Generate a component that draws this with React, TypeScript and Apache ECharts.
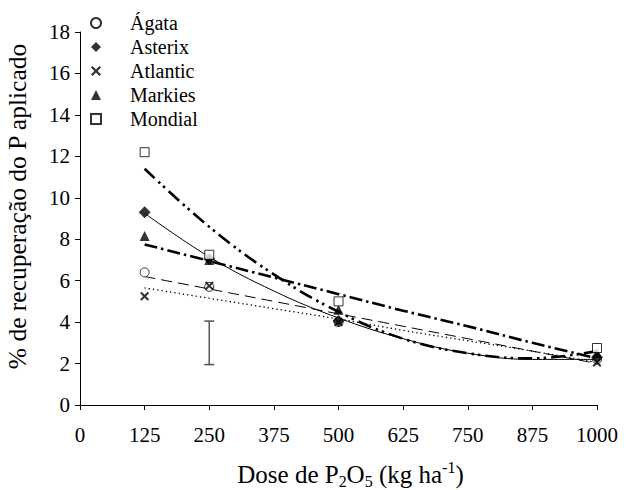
import { useEffect, useRef } from "react";
import * as echarts from "echarts";

// Observed data (dose in kg/ha of P2O5, % recovery of applied P)
const doses = [125, 250, 500, 1000];
const agata = [6.4, 5.7, 4.0, 2.2];
const asterix = [9.3, 7.05, 4.05, 2.3];
const atlantic = [5.25, 5.75, 4.0, 2.05];
const markies = [8.15, 7.0, 4.6, 2.5];
const mondial = [12.2, 7.25, 5.0, 2.75];

// Trend lines
const trendDoses = [125, 250, 375, 500, 625, 750, 875, 1000];
const agataTrend = [6.2, 5.6, 5.0, 4.4, 3.8, 3.2, 2.6, 2.0];
const asterixTrend = [9.25, 7.15, 5.5, 4.2, 3.2, 2.5, 2.2, 2.2];
const atlanticTrend = [5.65, 5.15, 4.65, 4.15, 3.6, 3.1, 2.6, 2.05];
const markiesTrend = [7.75, 6.95, 6.15, 5.35, 4.55, 3.8, 3.0, 2.25];
const mondialTrend = [11.4, 8.6, 6.3, 4.5, 3.2, 2.5, 2.25, 2.6];

// Error bar at dose 250
const errorBarX = 250;
const errorBarLow = 1.95;
const errorBarHigh = 4.05;

const cultivars = ["Ágata", "Asterix", "Atlantic", "Markies", "Mondial"];

const SERIF = "Liberation Serif";
const X_PATH =
  "path://M0,1.6 L1.6,0 L5,3.4 L8.4,0 L10,1.6 L6.6,5 L10,8.4 L8.4,10 L5,6.6 L1.6,10 L0,8.4 L3.4,5 Z";

function pairs(xs: number[], ys: number[]) {
  return xs.map((x, i) => [x, ys[i]]);
}

export default function App() {
  const ref = useRef<HTMLDivElement>(null);

  useEffect(() => {
    if (!ref.current) return;
    const chart = echarts.init(ref.current, undefined, { renderer: "svg" });

    const open = { color: "#fff", borderColor: "#000", borderWidth: 1 };
    const filled = { color: "#000", borderWidth: 0 };

    const markerSeries = [
      { name: cultivars[0], data: pairs(doses, agata), symbol: "circle", symbolSize: 9, itemStyle: open },
      { name: cultivars[1], data: pairs(doses, asterix), symbol: "diamond", symbolSize: 12, itemStyle: filled },
      { name: cultivars[2], data: pairs(doses, atlantic), symbol: X_PATH, symbolSize: 9, itemStyle: filled },
      { name: cultivars[3], data: pairs(doses, markies), symbol: "triangle", symbolSize: 10, itemStyle: filled },
      { name: cultivars[4], data: pairs(doses, mondial), symbol: "rect", symbolSize: 9, itemStyle: open },
    ].map((s) => ({ ...s, type: "scatter", z: 5 }));

    const trendStyles = [
      { data: agataTrend, lineStyle: { width: 1, type: [11, 6] } },
      { data: asterixTrend, lineStyle: { width: 1, type: "solid" } },
      { data: atlanticTrend, lineStyle: { width: 1.3, type: [1.3, 3] } },
      { data: markiesTrend, lineStyle: { width: 2.6, type: [13, 4, 2.5, 4] } },
      { data: mondialTrend, lineStyle: { width: 2.6, type: [14, 5, 2.5, 4, 2.5, 5] } },
    ];
    const trendSeries = trendStyles.map((t, i) => ({
      name: "trend-" + cultivars[i],
      type: "line",
      data: pairs(trendDoses, t.data),
      smooth: 0.4,
      showSymbol: false,
      symbol: "none",
      silent: true,
      z: 3,
      lineStyle: { color: "#000", ...t.lineStyle },
    }));

    const errorSeries = {
      type: "custom",
      name: "erro",
      z: 4,
      silent: true,
      data: [[errorBarX, errorBarLow, errorBarHigh]],
      renderItem: (_params: any, api: any) => {
        const lo = api.coord([api.value(0), api.value(1)]);
        const hi = api.coord([api.value(0), api.value(2)]);
        const cap = 5;
        const style = { stroke: "#555", lineWidth: 1.5 };
        return {
          type: "group",
          children: [
            { type: "line", shape: { x1: lo[0], y1: lo[1], x2: hi[0], y2: hi[1] }, style },
            { type: "line", shape: { x1: lo[0] - cap, y1: lo[1], x2: lo[0] + cap, y2: lo[1] }, style },
            { type: "line", shape: { x1: hi[0] - cap, y1: hi[1], x2: hi[0] + cap, y2: hi[1] }, style },
          ],
        };
      },
    };

    const axisCommon = {
      axisLine: { show: true, lineStyle: { color: "#000", width: 1 } },
      axisTick: { show: true, inside: false, length: 5, lineStyle: { color: "#000" } },
      splitLine: { show: false },
    };

    chart.setOption({
      animation: false,
      backgroundColor: "#fff",
      textStyle: { fontFamily: SERIF },
      grid: { left: 80, right: 29, top: 32, bottom: 85, containLabel: false, outerBoundsMode: "none" },
      legend: {
        data: cultivars,
        orient: "vertical",
        left: 90,
        top: 13,
        padding: 0,
        itemWidth: 10,
        itemHeight: 10,
        itemGap: 4,
        selectedMode: false,
        textStyle: {
          fontFamily: SERIF,
          fontSize: 20,
          color: "#000",
          lineHeight: 20,
          padding: [0, 0, 0, 24],
        },
      },
      xAxis: {
        type: "value",
        min: 0,
        max: 1000,
        interval: 125,
        ...axisCommon,
        axisLabel: {
          color: "#000",
          fontSize: 21,
          fontFamily: SERIF,
          margin: 19,
          formatter: (v: number) => String(v),
        },
        name: "{n|Dose de P}{s|2}{n|O}{s|5}{n| (kg ha}{p|-1}{n|)}",
        nameLocation: "middle",
        nameGap: 54,
        nameTextStyle: {
          padding: [0, 0, 0, 24],
          rich: {
            n: { fontSize: 25, fontFamily: SERIF, color: "#000", lineHeight: 30, verticalAlign: "middle" },
            s: { fontSize: 16, fontFamily: SERIF, color: "#000", lineHeight: 16, verticalAlign: "bottom" },
            p: { fontSize: 16, fontFamily: SERIF, color: "#000", lineHeight: 16, verticalAlign: "top" },
          },
        },
      },
      yAxis: {
        type: "value",
        min: 0,
        max: 18,
        interval: 2,
        ...axisCommon,
        axisLabel: { color: "#000", fontSize: 21, fontFamily: SERIF, margin: 10 },
        name: "% de recuperação do P aplicado",
        nameLocation: "middle",
        nameGap: 50,
        nameRotate: 90,
        nameTextStyle: { fontSize: 25.5, fontFamily: SERIF, color: "#000", padding: [0, 0, 0, 24] },
      },
      series: [...trendSeries, errorSeries, ...markerSeries],
    });

    return () => chart.dispose();
  }, []);

  return (
    <div
      ref={ref}
      style={{ position: "absolute", left: 0, top: 0, width: 626, height: 490 }}
    />
  );
}
